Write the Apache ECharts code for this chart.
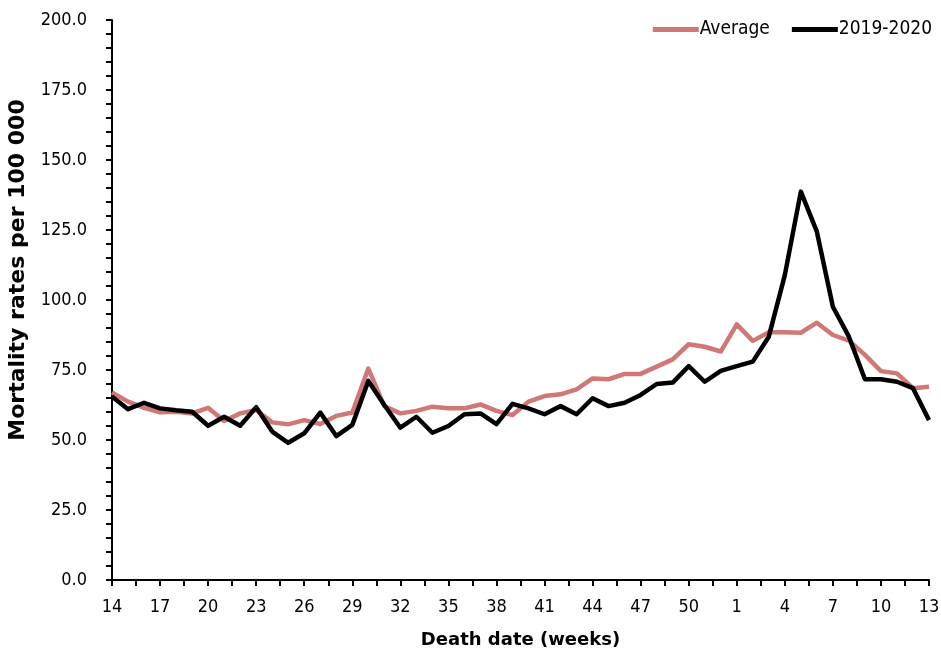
<!DOCTYPE html>
<html>
<head>
<meta charset="utf-8">
<script src="https://cdn.jsdelivr.net/npm/echarts@6/dist/echarts.min.js"></script>
<style>html,body{margin:0;padding:0;background:#fff}#c{width:941px;height:652px}</style>
</head>
<body>
<div id="c"></div>
<script>
const weeks = [14,15,16,17,18,19,20,21,22,23,24,25,26,27,28,29,30,31,32,33,34,35,36,37,38,39,40,41,42,43,44,45,46,47,48,49,50,51,52,1,2,3,4,5,6,7,8,9,10,11,12,13];
const average = [67.0,63.7,61.5,59.9,60.1,59.5,61.5,56.8,59.5,60.7,56.3,55.6,57.1,55.7,58.6,59.8,75.5,62.1,59.5,60.4,61.9,61.3,61.3,62.7,60.4,58.9,63.7,65.7,66.3,68.1,72.0,71.7,73.6,73.6,76.2,78.8,84.2,83.3,81.6,91.3,85.4,88.5,88.5,88.3,91.9,87.5,85.5,80.4,74.6,73.8,68.5,69.0];
const y2019_2020 = [65.5,61.0,63.3,61.3,60.6,60.1,55.1,58.3,55.1,61.7,53.0,49.0,52.4,59.8,51.4,55.4,71.1,62.5,54.4,58.3,52.6,55.0,59.2,59.5,55.7,62.9,61.3,59.2,62.1,59.2,64.9,62.1,63.3,66.1,70.0,70.5,76.4,70.8,74.7,76.4,78.0,86.9,108.9,138.7,124.4,97.6,86.9,71.7,71.7,70.8,68.5,57.1];
const seriesNames = ['Average', '2019-2020'];
const yTitle = 'Mortality rates per 100 000';
const xTitle = 'Death date (weeks)';

const FONT = 'Tahoma, "DejaVu Sans Condensed", "DejaVu Sans", sans-serif';
const BFONT = 'Verdana, "DejaVu Sans", sans-serif';
const chart = echarts.init(document.getElementById('c'), null, {renderer: 'canvas'});
chart.setOption({
  animation: false,
  backgroundColor: '#ffffff',
  grid: {left: 112, right: 12, top: 20, bottom: 72, containLabel: false, outerBoundsMode: 'none'},
  legend: {
    data: seriesNames,
    right: 4, top: 15,
    icon: 'rect', itemWidth: 46, itemHeight: 5, itemGap: 22,
    textStyle: {fontFamily: FONT, fontSize: 19, color: '#000', padding: [0,0,0,-4]}
  },
  graphic: [{
    type: 'text', x: 18, y: 270, rotation: Math.PI / 2,
    style: {text: yTitle, fontFamily: BFONT, fontSize: 22, fontWeight: 'bold', fill: '#000',
            align: 'center', verticalAlign: 'middle'}
  }],
  xAxis: {
    type: 'value', min: 0, max: weeks.length - 1, interval: 3,
    name: xTitle, nameLocation: 'middle', nameGap: 51,
    nameTextStyle: {fontFamily: BFONT, fontSize: 18, fontWeight: 'bold', color: '#000'},
    axisLine: {lineStyle: {color: '#000', width: 2}},
    axisTick: {show: true, inside: false, length: 6, lineStyle: {color: '#000', width: 2}},
    minorTick: {show: true, splitNumber: 2, length: 6, lineStyle: {color: '#000', width: 2}},
    axisLabel: {fontFamily: FONT, fontSize: 18, color: '#000', margin: 18,
      formatter: v => (Number.isInteger(v) && weeks[v] !== undefined) ? String(weeks[v]) : ''},
    splitLine: {show: false}
  },
  yAxis: {
    type: 'value', min: 0, max: 200, interval: 25,
    axisLine: {show: true, lineStyle: {color: '#000', width: 2}},
    axisTick: {show: true, inside: false, length: 6, lineStyle: {color: '#000', width: 2}},
    minorTick: {show: true, splitNumber: 5, length: 6, lineStyle: {color: '#000', width: 2}},
    axisLabel: {fontFamily: FONT, fontSize: 18, color: '#000', margin: 25, formatter: v => v.toFixed(1)},
    splitLine: {show: false}
  },
  series: [
    {name: seriesNames[0], type: 'line', symbol: 'none', color: '#CF7875',
     lineStyle: {width: 4.5, color: '#CF7875', join: 'round'},
     data: average.map((v, i) => [i, v])},
    {name: seriesNames[1], type: 'line', symbol: 'none', color: '#000000',
     lineStyle: {width: 4.5, color: '#000000', join: 'round'},
     data: y2019_2020.map((v, i) => [i, v])}
  ]
});
</script>
</body>
</html>
